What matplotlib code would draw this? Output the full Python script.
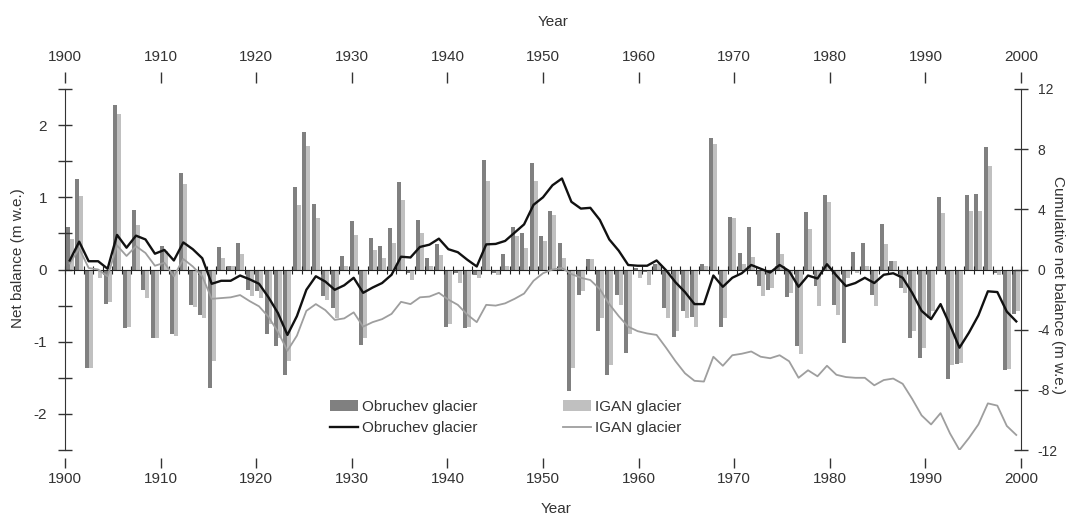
import matplotlib
matplotlib.use('Agg')
import matplotlib.pyplot as plt
import numpy as np
from matplotlib.lines import Line2D
from matplotlib.patches import Patch

plt.rcParams['font.family'] = ['Liberation Sans', 'DejaVu Sans']
plt.rcParams['axes.unicode_minus'] = False

years = list(range(1900, 2001))

# annual net balance (m w.e.), left axis
obruchev_net = [
    0.59, 1.25, -1.36, -0.02, -0.48, 2.28, -0.81, 0.83, -0.28, -0.95,
    0.32, -0.90, 1.34, -0.49, -0.63, -1.64, 0.31, 0.05, 0.37, -0.28,
    -0.30, -0.89, -1.06, -1.46, 1.14, 1.90, 0.91, -0.37, -0.54, 0.19,
    0.67, -1.04, 0.43, 0.32, 0.58, 1.21, -0.05, 0.68, 0.16, 0.36,
    -0.79, -0.05, -0.81, -0.08, 1.51, -0.05, 0.22, 0.59, 0.50, 1.47,
    0.46, 0.81, 0.37, -1.68, -0.35, 0.15, -0.85, -1.46, -0.35, -1.16,
    0.02, -0.03, 0.08, -0.54, -0.94, -0.58, -0.66, 0.08, 1.82, -0.79,
    0.73, 0.23, 0.59, -0.23, -0.28, 0.51, -0.38, -1.06, 0.80, -0.23,
    1.03, -0.49, -1.02, 0.24, 0.37, -0.35, 0.63, 0.12, -0.25, -0.95,
    -1.23, -0.67, 1.00, -1.52, -1.31, 1.03, 1.05, 1.69, -0.05, -1.39,
    -0.62,
]
igan_net = [
    0.42, 1.02, -1.36, -0.12, -0.45, 2.15, -0.80, 0.62, -0.39, -0.95,
    0.25, -0.92, 1.18, -0.52, -0.67, -1.27, 0.16, 0.05, 0.21, -0.37,
    -0.40, -0.76, -0.95, -1.27, 0.90, 1.71, 0.72, -0.42, -0.67, 0.05,
    0.48, -0.95, 0.27, 0.16, 0.37, 0.96, -0.14, 0.50, 0.05, 0.20,
    -0.76, -0.19, -0.79, -0.12, 1.23, -0.07, 0.05, 0.46, 0.30, 1.22,
    0.39, 0.75, 0.16, -1.37, -0.30, 0.15, -0.67, -1.32, -0.49, -0.90,
    -0.12, -0.21, 0.07, -0.67, -0.85, -0.67, -0.79, 0.05, 1.74, -0.67,
    0.72, 0.07, 0.17, -0.37, -0.25, 0.22, -0.32, -1.17, 0.56, -0.50,
    0.93, -0.63, -0.12, -0.05, 0.05, -0.51, 0.35, 0.12, -0.32, -0.85,
    -1.09, -0.58, 0.78, -1.32, -1.30, 0.81, 0.81, 1.44, -0.08, -1.38,
    -0.58,
]

# cumulative net balance (m w.e.), right axis
obruchev_cum = [
    0.60, 1.85, 0.55, 0.55, 0.05, 2.30, 1.45, 2.25, 2.00, 1.05,
    1.30, 0.60, 1.80, 1.35, 0.75, -0.95, -0.75, -0.75, -0.40, -0.65,
    -0.95, -1.85, -2.90, -4.35, -3.10, -1.35, -0.45, -0.80, -1.35, -1.05,
    -0.55, -1.55, -1.20, -0.90, -0.35, 0.85, 0.80, 1.50, 1.65, 2.05,
    1.35, 1.15, 0.65, 0.20, 1.67, 1.70, 1.90, 2.45, 3.00, 4.30,
    4.80, 5.60, 6.05, 4.50, 4.05, 4.10, 3.30, 2.00, 1.25, 0.30,
    0.25, 0.25, 0.60, -0.05, -0.85, -1.50, -2.30, -2.30, -0.40, -1.15,
    -0.55, -0.25, 0.30, 0.05, -0.20, 0.30, -0.10, -1.15, -0.40, -0.60,
    0.35, -0.40, -1.10, -0.90, -0.55, -0.90, -0.35, -0.25, -0.55, -1.55,
    -2.75, -3.30, -2.30, -3.70, -5.20, -4.20, -3.05, -1.45, -1.50, -2.80,
    -3.45,
]
igan_cum = [
    0.40, 1.40, 0.10, 0.00, -0.45, 1.60, 0.90, 1.55, 1.10, 0.25,
    0.45, -0.45, 0.70, 0.20, -0.45, -1.95, -1.90, -1.85, -1.70, -2.10,
    -2.45, -3.15, -4.15, -5.40, -4.40, -2.75, -2.30, -2.70, -3.35, -3.25,
    -2.85, -3.80, -3.50, -3.30, -2.95, -2.15, -2.30, -1.85, -1.80, -1.55,
    -2.00, -2.35, -3.00, -3.50, -2.35, -2.40, -2.25, -1.95, -1.60, -0.75,
    -0.25, 0.00, 0.10, -0.30, -0.55, -0.70, -1.30, -2.30, -3.10, -3.80,
    -4.10, -4.25, -4.35, -5.20, -6.10, -6.90, -7.40, -7.45, -5.80, -6.40,
    -5.70, -5.60, -5.45, -5.80, -5.90, -5.70, -6.10, -7.20, -6.70, -7.10,
    -6.40, -7.00, -7.15, -7.20, -7.20, -7.70, -7.35, -7.25, -7.60, -8.60,
    -9.70, -10.30, -9.55, -10.90, -12.00, -11.20, -10.30, -8.90, -9.05, -10.40,
    -11.00,
]

decade_ticks = list(range(1900, 2001, 10))
left_ticks = [-2, -1, 0, 1, 2]
right_ticks = [-12, -8, -4, 0, 4, 8, 12]

DARK = '#808080'
LIGHT = '#c0c0c0'
W, H = 1071, 517

#-------------------------------------------------------------------------------
fig = plt.figure(figsize=(W / 100, H / 100), dpi=100)
ax = fig.add_axes([65 / W, 1 - 450 / H, 956 / W, 361 / H])

# one category slot per year, like a category axis
n = len(years)
slot = 100 / n
pos = 1900 + (np.arange(n) + 0.5) * slot

ax.bar(pos - 0.21 * slot, obruchev_net, width=0.42 * slot, color=DARK, linewidth=0)
ax.bar(pos + 0.21 * slot, igan_net, width=0.42 * slot, color=LIGHT, linewidth=0)
ax.set_xlim(1900, 2000)
ax.set_ylim(-2.5, 2.5)

ax.spines['top'].set_visible(False)
ax.spines['right'].set_visible(False)
ax.spines['bottom'].set_position(('data', 0))
ax.spines['bottom'].set_color('#222222')
ax.spines['left'].set_color('#333333')
ax.set_xticks(1900 + np.arange(n + 1) * slot)
ax.tick_params(axis='x', direction='inout', length=6, width=0.8,
               colors='#222222', labelbottom=False)
ax.set_yticks(left_ticks)
ax.set_yticks(np.arange(-2.5, 2.6, 0.5), minor=True)
ax.tick_params(axis='y', which='both', direction='inout', length=10, width=1,
               colors='#333333', labelsize=11, pad=8)

ax2 = ax.twinx()
ax2.plot(pos, igan_cum, color='#9e9e9e', lw=1.3)
ax2.plot(pos, obruchev_cum, color='#111111', lw=1.7)
ax2.set_ylim(-12, 12)
ax2.set_yticks(right_ticks)
for side in ('top', 'bottom', 'left'):
    ax2.spines[side].set_visible(False)
ax2.spines['right'].set_color('#333333')
ax2.tick_params(axis='y', direction='inout', length=10, width=1,
                colors='#333333', labelsize=10, pad=7)

# year scales above and below
top = ax.secondary_xaxis(1 + 6 / 361)
bottom = ax.secondary_xaxis(-8 / 361)
for sec, tl, pad in ((top, 8, 6), (bottom, 7, 3)):
    for sp in sec.spines.values():
        sp.set_visible(False)
    sec.set_xticks(decade_ticks)
    sec.tick_params(axis='x', direction='out', length=tl, width=1,
                    colors='#333333', labelsize=11, pad=pad)

fig.text(553 / W, 1 - 22 / H, 'Year', ha='center', va='center', fontsize=11, color='#333333')
fig.text(556 / W, 1 - 509 / H, 'Year', ha='center', va='center', fontsize=11, color='#333333')
fig.text(18 / W, 1 - 258 / H, 'Net balance (m w.e.)', rotation=90,
         ha='center', va='center', fontsize=11, color='#333333')
fig.text(1058 / W, 1 - 285 / H, 'Cumulative net balance (m w.e.)', rotation=-90,
         ha='center', va='center', fontsize=11, color='#333333')

handles = [
    Patch(color=DARK, linewidth=0),
    Line2D([], [], color='#111111', lw=1.7),
    Patch(color=LIGHT, linewidth=0),
    Line2D([], [], color='#9e9e9e', lw=1.3),
]
labels = ['Obruchev glacier', 'Obruchev glacier', 'IGAN glacier', 'IGAN glacier']
fig.legend(handles, labels, ncol=2, frameon=False, loc='upper left',
           bbox_to_anchor=(330 / W, 1 - 400 / H), borderaxespad=0, borderpad=0,
           fontsize=11, handlelength=1.85, handletextpad=0.25,
           columnspacing=5.6, labelspacing=0.45, labelcolor='#333333')

fig.savefig('out.png', dpi=100)
